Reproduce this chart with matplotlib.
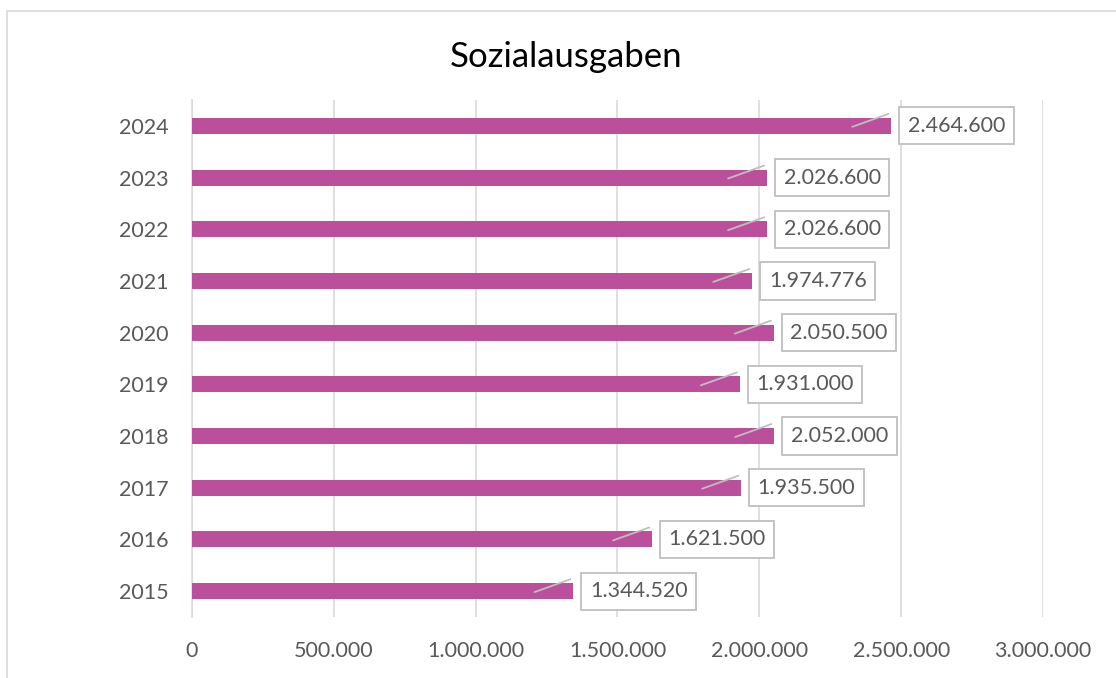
import matplotlib
matplotlib.use('Agg')
import matplotlib.pyplot as plt
from matplotlib.patches import Rectangle
from matplotlib.ticker import FuncFormatter
from matplotlib.transforms import offset_copy

# Data
years = ['2015', '2016', '2017', '2018', '2019', '2020', '2021', '2022', '2023', '2024']
values = [1344520, 1621500, 1935500, 2052000, 1931000, 2050500, 1974776, 2026600, 2026600, 2464600]
xticks = [0, 500000, 1000000, 1500000, 2000000, 2500000, 3000000]

bar_color = '#BC4F9B'
grid_color = '#D9D9D9'
text_color = '#595959'


def de_format(v):
    # German thousands separator
    return f'{int(v):,}'.replace(',', '.')


plt.rcParams['font.family'] = ['Lato', 'DejaVu Sans']

fig = plt.figure(figsize=(11.16, 6.78), dpi=100)
ax = fig.add_axes([0.172, 0.09, 0.7626, 0.7625])

# outer chart border (top and left visible)
fig.patches.append(Rectangle((7 / 1116, -0.05), 1.1, 1 - 11 / 678 + 0.05,
                             transform=fig.transFigure, fill=False,
                             edgecolor=grid_color, linewidth=1.2))

ypos = list(range(len(years)))
ax.barh(ypos, values, height=0.31, color=bar_color, zorder=3)

ax.set_xlim(0, 3000000)
ax.set_ylim(-0.5, len(years) - 0.5)
ax.set_xticks(xticks)
ax.xaxis.set_major_formatter(FuncFormatter(lambda v, p: de_format(v)))
ax.set_yticks(ypos)
ax.set_yticklabels(years)
ax.tick_params(axis='both', length=0, labelsize=15.5, colors=text_color)
ax.tick_params(axis='y', pad=17)
ax.tick_params(axis='x', pad=17)
ax.grid(axis='x', color=grid_color, linewidth=1.2, zorder=0)
for s in ['top', 'right', 'bottom']:
    ax.spines[s].set_visible(False)
ax.spines['left'].set_color(grid_color)
ax.spines['left'].set_linewidth(1.2)

# leader line endpoints, offset from the bar end
lead_start = offset_copy(ax.transData, fig=fig, x=-28, y=-0.7, units='points')
lead_end = offset_copy(ax.transData, fig=fig, x=-2, y=8.6, units='points')

# data labels with boxes and leader lines
for y, v in zip(ypos, values):
    ax.annotate('', xy=(v, y), xycoords=lead_end,
                xytext=(v, y), textcoords=lead_start,
                arrowprops=dict(arrowstyle='-', color='#BFBFBF', lw=1.3,
                                shrinkA=0, shrinkB=0),
                zorder=4)
    ax.annotate(de_format(v), xy=(v, y), xytext=(12, 0), textcoords='offset points',
                ha='left', va='center', fontsize=15.5, color=text_color, zorder=5,
                bbox=dict(boxstyle='square,pad=0.4', fc='white', ec='#BFBFBF', lw=1.3))

fig.text(0.507, 0.916, 'Sozialausgaben', ha='center', va='center',
         fontsize=25, color='black')

fig.savefig('out.png', dpi=100)
